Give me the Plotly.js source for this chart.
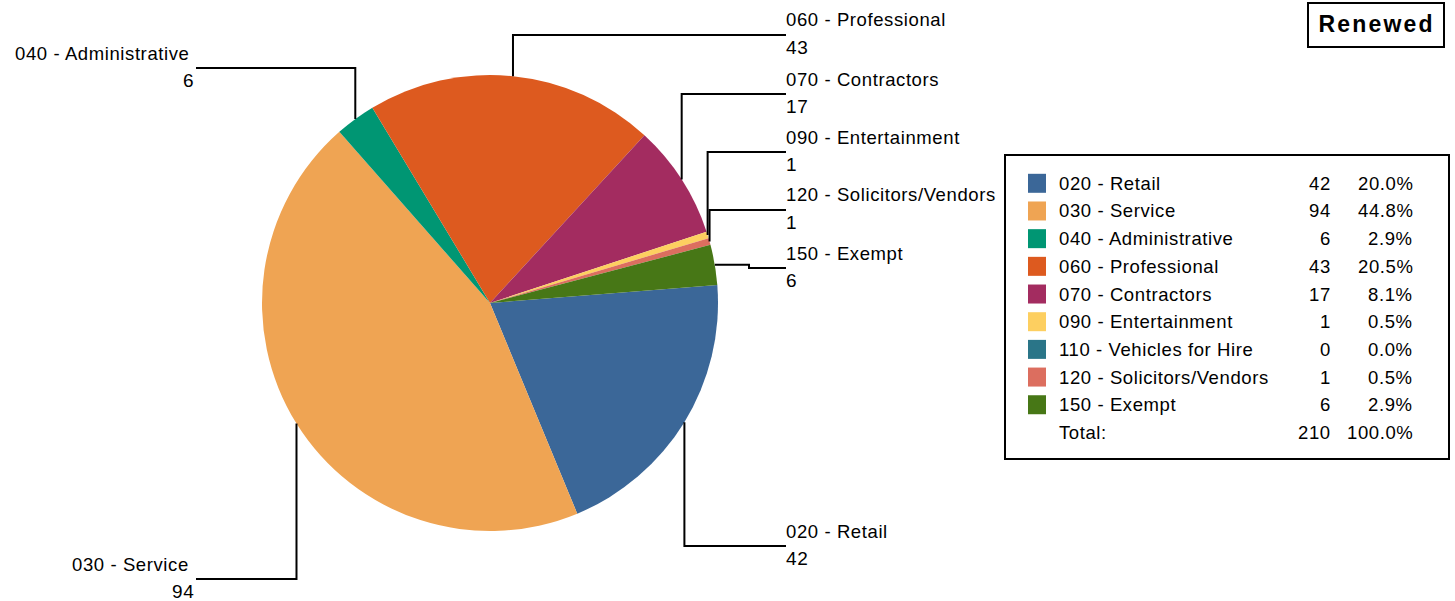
<!DOCTYPE html>
<html>
<head>
<meta charset="utf-8">
<script src="https://cdn.plot.ly/plotly-3.0.1.min.js"></script>
<style>
  html, body { margin: 0; padding: 0; background: #fff; }
  #chart { width: 1455px; height: 601px; }
  .annotation-text { letter-spacing: 0.6px; }
  .annotation[data-index="0"] .annotation-text { letter-spacing: 2.2px; }
</style>
</head>
<body>
<div id="chart"></div>
<script>
// ---- data ----
const chartTitle = 'Renewed';
const categories = ['020 - Retail', '030 - Service', '040 - Administrative', '060 - Professional',
  '070 - Contractors', '090 - Entertainment', '110 - Vehicles for Hire', '120 - Solicitors/Vendors', '150 - Exempt'];
const counts = [42, 94, 6, 43, 17, 1, 0, 1, 6];
const colors = ['#3B6798', '#EFA453', '#009673', '#DD5A1F', '#A32C60', '#FDCF60', '#2A7588', '#DC6E5F', '#477716'];
const totalLabel = 'Total:';

// ---- layout constants (pixels) ----
const W = 1455, H = 601;
const PIE = { cx: 490, cy: 303, r: 228, rotation: 85.5 };
// label placement: side, y of the horizontal leader, optional x of an elbow
const labelSide  = ['right', 'left', 'left', 'right', 'right', 'right', null, 'right', 'right'];
const labelLineY = [546, 579, 68, 35, 94, 152, null, 210, 268];
const labelElbowX = [null, null, null, null, null, null, null, null, 749];
const RIGHT_END = 786, LEFT_END = 196;
const FS = 18.5;

const FONT = 'Liberation Sans, Arial, sans-serif';
const px = x => x / W;
const py = y => 1 - y / H;

const total = counts.reduce((a, b) => a + b, 0);

const pieTrace = {
  type: 'pie',
  labels: categories,
  values: counts,
  sort: false,
  direction: 'clockwise',
  rotation: PIE.rotation,
  marker: { colors: colors, line: { width: 0 } },
  textinfo: 'none',
  hoverinfo: 'label+value+percent',
  showlegend: false,
  domain: {
    x: [px(PIE.cx - PIE.r), px(PIE.cx + PIE.r)],
    y: [py(PIE.cy + PIE.r), py(PIE.cy - PIE.r)]
  }
};

const shapes = [];
const annotations = [];

// title box
annotations.push({
  xref: 'paper', yref: 'paper', x: px(1376), y: py(24), xanchor: 'center', yanchor: 'middle',
  text: '<b>' + chartTitle + '</b>', showarrow: false,
  font: { family: FONT, size: 23, color: '#000' }
});
shapes.push({ type: 'rect', xref: 'paper', yref: 'paper',
  x0: px(1308), x1: px(1444), y0: py(3), y1: py(47), line: { color: '#000', width: 2 } });

// leader lines + outside labels
let cum = 0;
counts.forEach((v, i) => {
  const mid = (PIE.rotation + (cum + v / 2) / total * 360) * Math.PI / 180;
  cum += v;
  if (!labelSide[i]) return;
  const ax = PIE.cx + PIE.r * Math.sin(mid);
  const ay = PIE.cy - PIE.r * Math.cos(mid);
  const ly = labelLineY[i];
  const endX = labelSide[i] === 'right' ? RIGHT_END : LEFT_END;
  let pts;
  if (labelElbowX[i] != null) {
    pts = [[ax, ay], [labelElbowX[i], ay], [labelElbowX[i], ly], [endX, ly]];
  } else {
    pts = [[ax, ay], [ax, ly], [endX, ly]];
  }
  const path = pts.map((p, k) => (k ? 'L ' : 'M ') + px(p[0]) + ' ' + py(p[1])).join(' ');
  shapes.push({ type: 'path', xref: 'paper', yref: 'paper', path: path,
    line: { color: '#000', width: 2 }, fillcolor: 'rgba(0,0,0,0)' });
  const right = labelSide[i] === 'right';
  annotations.push({
    xref: 'paper', yref: 'paper', x: px(right ? RIGHT_END - 2 : 191), y: py(ly - 15),
    xanchor: right ? 'left' : 'right', yanchor: 'middle', showarrow: false,
    text: categories[i], font: { family: FONT, size: FS, color: '#000' }
  });
  annotations.push({
    xref: 'paper', yref: 'paper', x: px(right ? RIGHT_END - 2 : LEFT_END), y: py(ly + 12),
    xanchor: right ? 'left' : 'right', yanchor: 'middle', showarrow: false,
    text: String(v), font: { family: FONT, size: FS + 0.5, color: '#000' }
  });
});

// legend table
const LEG = { x0: 1005, x1: 1449, y0: 155, y1: 459, rowY: 183.3, rowH: 27.68,
  swX0: 1028, swX1: 1046, swH: 19, nameX: 1057, countX: 1333, pctX: 1415 };
shapes.push({ type: 'rect', xref: 'paper', yref: 'paper',
  x0: px(LEG.x0), x1: px(LEG.x1), y0: py(LEG.y0), y1: py(LEG.y1), line: { color: '#000', width: 2 } });
const rowText = (y, name, cnt, pct) => {
  [[LEG.nameX, 'left', name], [LEG.countX, 'right', cnt], [LEG.pctX, 'right', pct]].forEach(c => {
    annotations.push({ xref: 'paper', yref: 'paper', x: px(c[0]), y: py(y), xanchor: c[1], yanchor: 'middle',
      showarrow: false, text: c[2], font: { family: FONT, size: FS, color: '#000' } });
  });
};
categories.forEach((name, i) => {
  const y = LEG.rowY + i * LEG.rowH;
  shapes.push({ type: 'rect', xref: 'paper', yref: 'paper',
    x0: px(LEG.swX0), x1: px(LEG.swX1), y0: py(y - LEG.swH / 2), y1: py(y + LEG.swH / 2),
    fillcolor: colors[i], line: { width: 0 } });
  rowText(y, name, String(counts[i]), (counts[i] / total * 100).toFixed(1) + '%');
});
rowText(LEG.rowY + categories.length * LEG.rowH, totalLabel, String(total), (100).toFixed(1) + '%');

const layout = {
  width: W, height: H,
  margin: { l: 0, r: 0, t: 0, b: 0 },
  paper_bgcolor: '#fff',
  showlegend: false,
  shapes: shapes,
  annotations: annotations,
  font: { family: FONT }
};

Plotly.newPlot('chart', [pieTrace], layout, { displayModeBar: false, staticPlot: true });
</script>
</body>
</html>
